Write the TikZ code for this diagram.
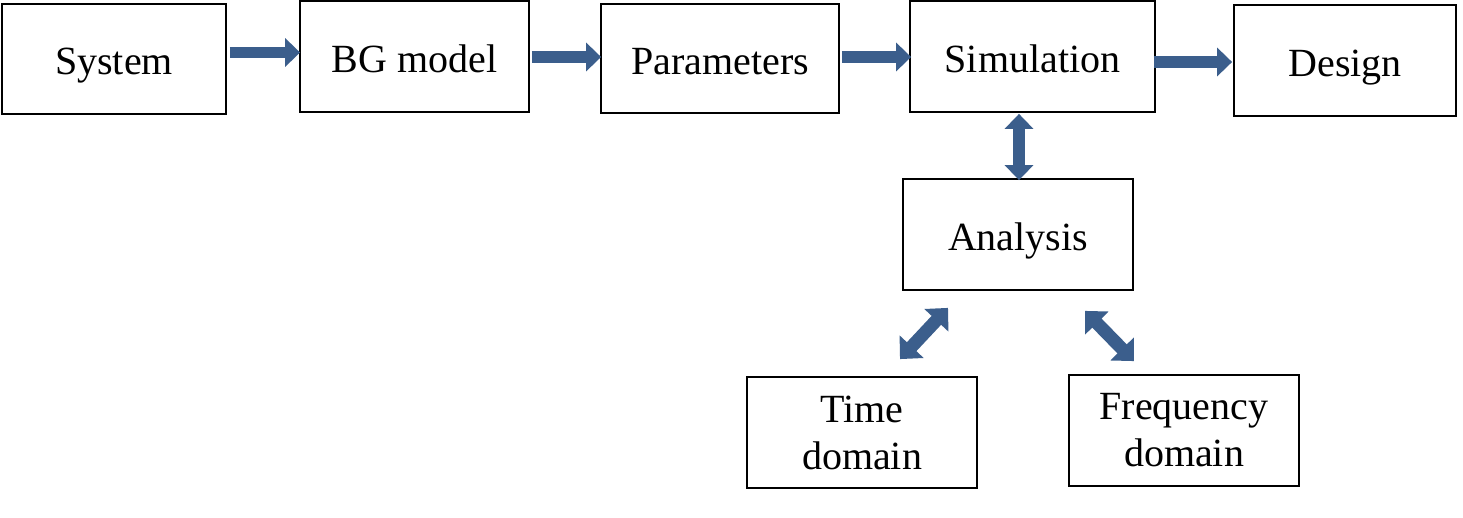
\documentclass[tikz,border=0pt]{standalone}
\usepackage{fontspec}
\setmainfont{Liberation Serif}
\usetikzlibrary{arrows.meta}
\definecolor{arrowblue}{RGB}{59,94,140}
\begin{document}
\begin{tikzpicture}[x=1pt,y=-1pt,
  box/.style={draw=black,line width=1.8pt,fill=white,inner sep=0pt,align=center,
    font=\fontsize{40}{47}\selectfont},
  onebox/.style={box,text height=34pt,text depth=2pt},
  barrow/.style={draw=arrowblue,line width=11.5pt,-{Triangle[width=28pt,length=15pt]}},
  dbarrow/.style={draw=arrowblue,line width=11.5pt,{Triangle[width=28pt,length=15pt]}-{Triangle[width=28pt,length=15pt]}},
  ddarrow/.style={draw=arrowblue,line width=13pt,{Triangle[width=32pt,length=17pt]}-{Triangle[width=32pt,length=17pt]}}]
\useasboundingbox[fill=white] (0,0) rectangle (1463,518);
\node[onebox,minimum width=224pt,minimum height=110pt] (sys) at (114,59) {System};
\node[onebox,minimum width=229pt,minimum height=111pt] (bg) at (414.5,56.5) {BG model};
\node[onebox,minimum width=238pt,minimum height=109pt] (par) at (720,58.5) {Parameters};
\node[onebox,minimum width=245pt,minimum height=111pt] (sim) at (1032.5,56.5) {Simulation};
\node[onebox,minimum width=222pt,minimum height=111pt] (des) at (1345,60.5) {Design};
\node[onebox,minimum width=230pt,minimum height=111pt] (ana) at (1018,234.5) {Analysis};
\node[box,minimum width=230pt,minimum height=111pt] (time) at (862,432.5) {Time\\domain};
\node[box,minimum width=230pt,minimum height=111pt] (freq) at (1184,430.5) {Frequency\\domain};
\draw[barrow] ([xshift=3pt,yshift=6.5pt]sys.east) -- ([xshift=1pt,yshift=4pt]bg.west);
\draw[barrow] ([xshift=2pt,yshift=-0.5pt]bg.east) -- ([xshift=1pt,yshift=1.5pt]par.west);
\draw[barrow] ([xshift=2pt,yshift=1.5pt]par.east) -- ([xshift=2pt,yshift=-0.5pt]sim.west);
\draw[barrow] ([xshift=-2pt,yshift=-5.5pt]sim.east) -- ([xshift=-1pt,yshift=-1.5pt]des.west);
\draw[dbarrow] ([xshift=-13.5pt,yshift=-1pt]sim.south) -- ([xshift=1pt,yshift=-2pt]ana.north);
\draw[ddarrow] ([xshift=-70pt,yshift=-17pt]ana.south) -- ([xshift=38pt,yshift=17pt]time.north);
\draw[ddarrow] ([xshift=67pt,yshift=-20pt]ana.south) -- ([xshift=-50pt,yshift=13pt]freq.north);
\end{tikzpicture}
\end{document}
